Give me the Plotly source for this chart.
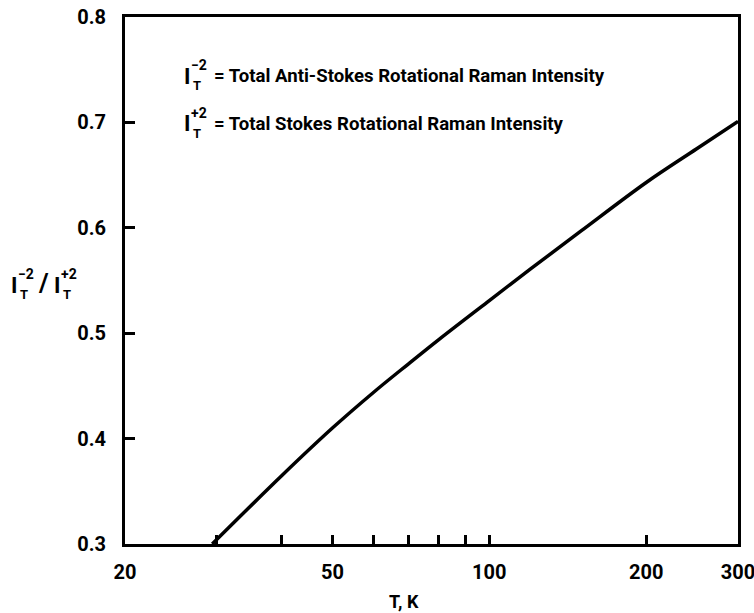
import math
import plotly.graph_objects as go

# Data
temperature_K = [29.4, 40, 50, 60, 70, 80, 100, 120, 150, 200, 250, 300]
intensity_ratio = [0.300, 0.365, 0.410, 0.444, 0.471, 0.494, 0.531, 0.561, 0.597, 0.643, 0.675, 0.701]

x_tickvals = [20, 30, 40, 50, 60, 70, 80, 90, 100, 200, 300]
x_ticktext = ["20", "", "", "50", "", "", "", "", "100", "200", "300"]
y_tickvals = [0.3, 0.4, 0.5, 0.6, 0.7, 0.8]
y_ticktext = ["0.3", "0.4", "0.5", "0.6", "0.7", "0.8"]

legend_line1 = "= Total Anti-Stokes Rotational Raman Intensity"
legend_line2 = "= Total Stokes Rotational Raman Intensity"
x_title = "T, K"

FONT = "Roboto, Liberation Sans, sans-serif"

W, H = 754, 613
ML, MR, MT, MB = 125, 16, 17, 69
PW, PH = W - ML - MR, H - MT - MB

fig = go.Figure()
fig.add_trace(go.Scatter(
    x=temperature_K, y=intensity_ratio, mode="lines",
    line=dict(color="black", width=3.5, shape="spline", smoothing=1.0),
    showlegend=False, hoverinfo="skip",
))


def px(x):
    return (x - ML) / PW


def py(y):
    return (H - MB - y) / PH


def txt(x, y, s, size, anchor="center", bold=True):
    if bold:
        s = "<b>" + s + "</b>"
    fig.add_annotation(x=px(x), y=py(y), xref="paper", yref="paper", text=s,
                       showarrow=False, xanchor=anchor, yanchor="middle",
                       font=dict(family=FONT, size=size, color="black"))


def intensity_symbol(x, y, sup):
    txt(x, y, "I", 22)
    txt(x + 10, y + 9, "T", 13)
    txt(x + 12, y - 11, sup, 14)


# legend text block
intensity_symbol(187, 76, "\u22122")
txt(212, 76, legend_line1, 18.6, anchor="left")
intensity_symbol(187, 124, "+2")
txt(212, 124, legend_line2, 18.6, anchor="left")

# y-axis title
intensity_symbol(14, 285, "\u22122")
txt(43, 283, "/", 26)
intensity_symbol(57, 285, "+2")

# x-axis title
txt(404, 601, x_title, 18)

fig.update_layout(
    width=W, height=H,
    margin=dict(l=ML, r=MR, t=MT, b=MB, pad=0, autoexpand=False),
    paper_bgcolor="white", plot_bgcolor="white",
    font=dict(family=FONT, size=20, color="black"),
    xaxis=dict(
        type="log", range=[math.log10(20) - 1e-5, math.log10(300) + 1e-5],
        tickvals=x_tickvals, ticktext=[f"<b>{t}</b>" if t else "" for t in x_ticktext],
        ticks="inside", ticklen=9, tickwidth=2.5, tickcolor="black",
        showline=True, linewidth=3, linecolor="black", mirror=True,
        showgrid=False, zeroline=False, ticklabelstandoff=8,
        ticklabeloverflow="allow", automargin=False,
    ),
    yaxis=dict(
        range=[0.3, 0.8],
        tickvals=y_tickvals, ticktext=[f"<b>{t}</b>" for t in y_ticktext],
        ticks="inside", ticklen=10, tickwidth=2.5, tickcolor="black",
        showline=True, linewidth=3, linecolor="black", mirror=True,
        showgrid=False, zeroline=False, ticklabelstandoff=12,
        automargin=False,
    ),
)

fig.write_html("out.html")
